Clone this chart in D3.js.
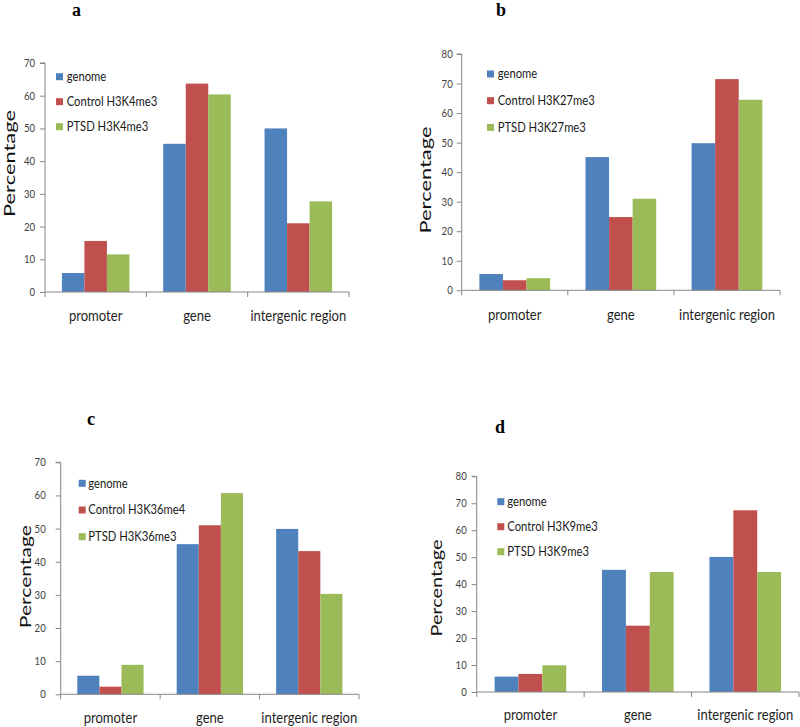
<!DOCTYPE html>
<html>
<head>
<meta charset="utf-8">
<script src="https://cdn.jsdelivr.net/npm/d3@7"></script>
<style>
  html, body { margin: 0; padding: 0; background: #fff; }
  svg { display: block; }
</style>
</head>
<body>
<svg id="chart" width="800" height="727"></svg>
<script>
// ---------- data ----------
const categories = ["promoter", "gene", "intergenic region"];

const genomeA  = [5.8, 45.3, 50.0];
const controlA = [15.6, 63.7, 21.0];
const ptsdA    = [11.5, 60.4, 27.7];
const legendA  = ["genome", "Control H3K4me3", "PTSD H3K4me3"];

const genomeB  = [5.5, 45.1, 49.8];
const controlB = [3.4, 24.8, 71.5];
const ptsdB    = [4.1, 31.0, 64.5];
const legendB  = ["genome", "Control H3K27me3", "PTSD H3K27me3"];

const genomeC  = [5.6, 45.3, 49.9];
const controlC = [2.3, 51.0, 43.2];
const ptsdC    = [8.9, 60.7, 30.3];
const legendC  = ["genome", "Control H3K36me4", "PTSD H3K36me3"];

const genomeD  = [5.7, 45.3, 50.1];
const controlD = [6.7, 24.6, 67.4];
const ptsdD    = [9.9, 44.5, 44.5];
const legendD  = ["genome", "Control H3K9me3", "PTSD H3K9me3"];

const yMaxes = [70, 80, 70, 80];
const panelLetters = ["a", "b", "c", "d"];
const yTitle = "Percentage";

// ---------- styling / layout ----------
const colors = ["#4F81BD", "#C0504D", "#9BBB59"];
const axisColor = "#868686";
const font = "Lato, 'Open Sans', sans-serif";
const squeeze = 0.87;   // horizontal compression seen in the reference text

const layouts = [
  {left:45,    right:349, top:63,    bottom:292,   tickPad:5,  legSqX:56,    legTextX:66.7,  legY0:76.7,  legDy:25,   pctX:14.5,  pctY:163.5, pctLen:107, catDy:29, tx:72,  ty:16.2},
  {left:461.7, right:780, top:54,    bottom:290.3, tickPad:4,  legSqX:487,   legTextX:497.7, legY0:74,    legDy:26.7, pctX:431,   pctY:180,   pctLen:107, catDy:30, tx:496, ty:16.2},
  {left:60.7,  right:359, top:462.3, bottom:694.3, tickPad:10, legSqX:78.7,  legTextX:88.3,  legY0:483.3, legDy:26.7, pctX:31,    pctY:576.7, pctLen:103, catDy:29, tx:87,  ty:425},
  {left:476.7, right:799, top:476.3, bottom:692,   tickPad:5,  legSqX:497.3, legTextX:507.3, legY0:501.7, legDy:25,   pctX:441.7, pctY:588,   pctLen:97,  catDy:28, tx:495, ty:433}
];

const panels = [
  {series:[genomeA, controlA, ptsdA], legend:legendA},
  {series:[genomeB, controlB, ptsdB], legend:legendB},
  {series:[genomeC, controlC, ptsdC], legend:legendC},
  {series:[genomeD, controlD, ptsdD], legend:legendD}
];

const svg = d3.select("#chart");

panels.forEach((p, i) => {
  const L = layouts[i];
  const g = svg.append("g");
  const seriesIdx = [0, 1, 2];

  const x0 = d3.scaleBand().domain(categories).range([L.left, L.right]).padding(0);
  const x1 = d3.scaleBand().domain(seriesIdx).range([0, x0.bandwidth()])
               .paddingInner(0).paddingOuter(0.75);
  const y = d3.scaleLinear().domain([0, yMaxes[i]]).range([L.bottom, L.top]);

  // bars
  categories.forEach((c, ci) => {
    g.selectAll(null)
      .data(seriesIdx)
      .enter().append("rect")
      .attr("x", s => x0(c) + x1(s))
      .attr("width", x1.bandwidth())
      .attr("y", s => y(p.series[s][ci]))
      .attr("height", s => y(0) - y(p.series[s][ci]))
      .attr("fill", s => colors[s]);
  });

  // y axis
  const yAxis = d3.axisLeft(y).ticks(yMaxes[i] / 10).tickSize(5).tickPadding(L.tickPad);
  const ya = g.append("g").attr("transform", `translate(${L.left},0)`).call(yAxis);
  ya.select(".domain").attr("stroke", axisColor).attr("d", `M-5,${L.top}H0V${L.bottom}`);
  ya.selectAll(".tick line").attr("stroke", axisColor);
  ya.selectAll(".tick text")
    .attr("fill", "#404040")
    .style("font-family", font).style("font-size", "11px")
    .each(function() {
      const t = d3.select(this);
      const tx = +t.attr("x");
      t.attr("x", 0).attr("transform", `translate(${tx},0) scale(${squeeze},1)`);
    });

  // x axis line and boundary ticks
  g.append("line")
    .attr("x1", L.left).attr("x2", L.right)
    .attr("y1", y(0)).attr("y2", y(0))
    .attr("stroke", axisColor);
  const bounds = categories.map(c => x0(c)).concat([x0.range()[1]]);
  g.selectAll(null).data(bounds).enter().append("line")
    .attr("x1", d => d).attr("x2", d => d)
    .attr("y1", y(0)).attr("y2", y(0) + 5)
    .attr("stroke", axisColor);

  // category labels
  g.selectAll(null).data(categories).enter().append("text")
    .attr("transform", c => `translate(${x0(c) + x0.bandwidth() / 2},${y(0) + L.catDy}) scale(${squeeze},1)`)
    .attr("text-anchor", "middle")
    .attr("fill", "#1f1f1f")
    .style("font-family", font).style("font-size", "15px")
    .text(c => c);

  // legend
  const lg = g.selectAll(null).data(p.legend).enter().append("g");
  lg.append("rect")
    .attr("x", L.legSqX)
    .attr("y", (d, k) => L.legY0 + k * L.legDy - 3.5)
    .attr("width", 7).attr("height", 7)
    .attr("fill", (d, k) => colors[k]);
  lg.append("text")
    .attr("transform", (d, k) => `translate(${L.legTextX},${L.legY0 + k * L.legDy + 4.3}) scale(0.9,1)`)
    .attr("fill", "#1a1a1a")
    .style("font-family", font).style("font-size", "12.5px")
    .text(d => d);

  // y title
  g.append("text")
    .attr("transform", `translate(${L.pctX},${L.pctY}) rotate(-90)`)
    .attr("text-anchor", "middle")
    .attr("textLength", L.pctLen)
    .attr("lengthAdjust", "spacingAndGlyphs")
    .attr("fill", "#111")
    .style("font-family", font).style("font-size", "16px")
    .text(yTitle);

  // panel letter
  g.append("text")
    .attr("x", L.tx).attr("y", L.ty)
    .attr("fill", "#000")
    .style("font-family", "'Liberation Serif', 'DejaVu Serif', serif")
    .style("font-weight", "bold").style("font-size", "18px")
    .text(panelLetters[i]);
});
</script>
</body>
</html>
